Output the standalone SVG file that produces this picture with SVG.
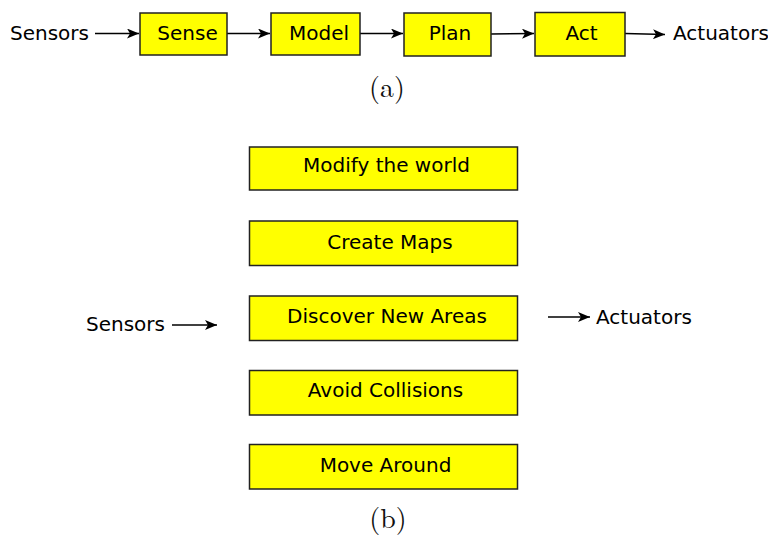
<svg xmlns="http://www.w3.org/2000/svg" width="768" height="536" viewBox="0 0 768 536">
<style>
.box{fill:#ffff00;stroke:#222;stroke-width:1.5}
.t{font-family:"DejaVu Sans",sans-serif;font-size:20px;fill:#000}
.m{text-anchor:middle}
.lbl{font-family:"Latin Modern Roman","DejaVu Serif","Liberation Serif",serif;font-size:28px;fill:#111;text-anchor:middle}
.c{stroke:#000;stroke-width:1.5;fill:none;marker-end:url(#ah)}
</style>
<defs>
<marker id="ah" viewBox="0 0 12 10" refX="12" refY="5" markerWidth="12" markerHeight="10" markerUnits="userSpaceOnUse" orient="auto">
<path d="M0,0 L12,5 L0,10 L3,5 Z" fill="#000"/>
</marker>
</defs>
<rect width="768" height="536" fill="#fff"/>
<g id="connectors">
<line class="c" x1="95" y1="33.5" x2="139" y2="33.5"/>
<line class="c" x1="227" y1="33.5" x2="270" y2="33.5"/>
<line class="c" x1="360" y1="33.5" x2="403" y2="33.5"/>
<line class="c" x1="491" y1="34" x2="534" y2="33.5"/>
<line class="c" x1="625" y1="33.5" x2="665" y2="34.5"/>
<line class="c" x1="172" y1="325" x2="217" y2="325"/>
<line class="c" x1="548" y1="317" x2="590" y2="317"/>
</g>
<g id="sensors-a"><text class="t" x="10" y="40">Sensors</text></g>
<g id="sense"><rect class="box" x="140" y="13" width="87" height="42"/><text class="t m" x="187.5" y="40">Sense</text></g>
<g id="model"><rect class="box" x="271" y="13" width="89" height="42"/><text class="t m" x="319" y="40">Model</text></g>
<g id="plan"><rect class="box" x="404" y="13" width="87" height="43"/><text class="t m" x="450" y="40">Plan</text></g>
<g id="act"><rect class="box" x="535" y="12.5" width="90" height="43.5"/><text class="t m" x="581.5" y="40">Act</text></g>
<g id="actuators-a"><text class="t" x="673" y="40">Actuators</text></g>
<text class="lbl" x="387" y="97">(a)</text>
<g id="modify"><rect class="box" x="249.5" y="147" width="268" height="43"/><text class="t m" x="386.5" y="172">Modify the world</text></g>
<g id="maps"><rect class="box" x="249.5" y="221" width="268" height="44.5"/><text class="t m" x="390" y="249">Create Maps</text></g>
<g id="discover"><rect class="box" x="249.5" y="296" width="268" height="44.5"/><text class="t m" x="387" y="323">Discover New Areas</text></g>
<g id="avoid"><rect class="box" x="249.5" y="370.5" width="268" height="44.5"/><text class="t m" x="385.5" y="397">Avoid Collisions</text></g>
<g id="move"><rect class="box" x="249.5" y="444.5" width="268" height="44.5"/><text class="t m" x="385.5" y="471.5">Move Around</text></g>
<g id="sensors-b"><text class="t" x="86" y="331">Sensors</text></g>
<g id="actuators-b"><text class="t" x="596" y="324">Actuators</text></g>
<text class="lbl" x="388" y="528">(b)</text>
</svg>
